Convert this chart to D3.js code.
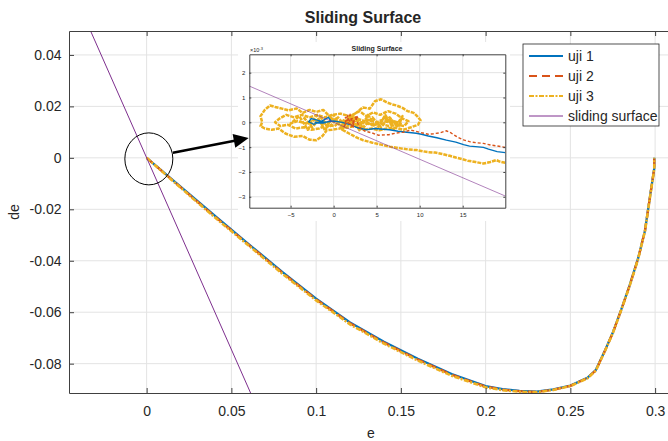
<!DOCTYPE html>
<html lang="en">
<head>
<meta charset="UTF-8" />
<title>Sliding Surface</title>
<script src="https://d3js.org/d3.v7.min.js"></script>
<style>
  body { margin: 0; background: #fff; }
  svg { font-family: "Liberation Sans", Arial, sans-serif; }
  svg text { fill: #262626; }
  .grid line { stroke: #e3e3e3; stroke-width: 1; }
</style>
</head>
<body>
<svg width="668" height="441"></svg>
<script>
// ---- main plot data (e, de) ----
const eVals = [0, 0.02, 0.04, 0.06, 0.08, 0.1, 0.12, 0.14, 0.16, 0.18, 0.2, 0.21, 0.22, 0.23,
               0.24, 0.25, 0.26, 0.265, 0.27, 0.275, 0.28, 0.285, 0.29, 0.294, 0.297, 0.2995, 0.2995];
const deUji1 = [0, -0.0112, -0.0224, -0.0334, -0.0443, -0.0547, -0.0640, -0.0715, -0.0781, -0.0840,
                -0.0887, -0.0899, -0.0906, -0.0909, -0.0900, -0.0885, -0.0855, -0.0825, -0.0755,
                -0.0680, -0.0590, -0.0495, -0.0390, -0.0283, -0.0150, -0.0040, 0];
const deUji2 = [0, -0.0114, -0.0227, -0.0337, -0.0446, -0.0550, -0.0643, -0.0718, -0.0784, -0.0843,
                -0.0889, -0.0901, -0.0907, -0.0910, -0.0901, -0.0886, -0.0856, -0.0826, -0.0756,
                -0.0681, -0.0591, -0.0496, -0.0391, -0.0284, -0.0151, -0.0041, 0];
const deUji3 = [0, -0.0116, -0.0230, -0.0340, -0.0450, -0.0554, -0.0647, -0.0722, -0.0788, -0.0847,
                -0.0892, -0.0903, -0.0909, -0.0911, -0.0902, -0.0887, -0.0857, -0.0827, -0.0757,
                -0.0682, -0.0592, -0.0497, -0.0392, -0.0285, -0.0152, -0.0042, 0];
const surfE = [-0.045, 0.07];
const surfDe = [0.0671, -0.1043];

const xTicks = [0, 0.05, 0.1, 0.15, 0.2, 0.25, 0.3];
const xTickLabels = ["0", "0.05", "0.1", "0.15", "0.2", "0.25", "0.3"];
const yTicks = [0.04, 0.02, 0, -0.02, -0.04, -0.06, -0.08];
const yTickLabels = ["0.04", "0.02", "0", "-0.02", "-0.04", "-0.06", "-0.08"];

// ---- inset data (zoom around the origin) ----
const insetUji1 = [[19.95,-1.22],[19.0,-1.18],[18.0,-1.08],[17.4,-1.01],[16.5,-0.98],[15.8,-0.96],
  [15.1,-0.9],[14.2,-0.8],[13.1,-0.72],[12.0,-0.62],[11.0,-0.55],[10.2,-0.48],[9.6,-0.44],[8.5,-0.4],
  [7.5,-0.36],[6.5,-0.3],[5.8,-0.28],[4.8,-0.25],[3.8,-0.3],[2.8,-0.22],[2.0,-0.1],[1.0,0.0],[0.0,0.05],
  [-1.0,0.0],[-1.8,0.08],[-2.6,0.15],[-2.9,0.02],[-2.3,-0.08],[-1.5,0.03],[-0.6,0.2],[-0.3,0.05],
  [-1.2,-0.03],[-2.2,0.0]];
const insetUji2 = [[19.95,-1.01],[19.0,-0.95],[18.3,-0.92],[17.4,-0.85],[16.5,-0.82],[15.8,-0.78],
  [15.1,-0.71],[14.4,-0.6],[13.6,-0.42],[13.1,-0.34],[12.4,-0.42],[11.6,-0.46],[11.0,-0.48],[10.2,-0.42],
  [9.4,-0.35],[8.9,-0.31],[8.1,-0.4],[7.3,-0.43],[6.4,-0.5],[5.2,-0.52],[4.4,-0.42],[3.6,-0.35],
  [3.0,-0.2],[2.6,0.15],[2.1,-0.15],[1.6,0.25],[1.2,-0.2],[1.9,0.3],[2.4,-0.2],[1.4,0.05],[2.9,0.25],
  [2.2,0.0],[1.3,0.2]];
const insetUji3 = [[19.95,-1.63],[19.3,-1.58],[18.9,-1.52],[18.2,-1.6],[17.4,-1.66],[16.5,-1.6],
  [15.6,-1.55],[15.1,-1.5],[14.2,-1.42],[13.5,-1.35],[12.7,-1.28],[11.8,-1.22],[10.9,-1.2],[9.7,-1.12],
  [8.8,-1.1],[7.8,-1.05],[6.5,-0.98],[5.5,-0.9],[4.5,-0.82],[3.4,-0.72],[2.6,-0.6],[1.8,-0.45],[1.0,-0.3],
  [1.6,0.1],[2.5,0.35],[3.4,0.6],[4.2,0.55],[4.8,0.85],[5.5,0.93],[6.2,0.8],[6.8,0.72],[7.3,0.68],
  [8.0,0.58],[8.6,0.45],[9.3,0.38],[9.7,0.25],[10.1,0.08],[9.8,-0.1],[9.0,-0.2],[8.1,-0.3],[7.2,-0.22],
  [6.2,-0.25],[5.3,-0.32],[4.4,-0.25],[3.5,-0.3],[2.5,-0.15],[1.5,-0.22],[0.5,-0.05],[-0.5,0.25],
  [-1.2,0.5],[-2.0,0.42],[-2.8,0.5],[-3.6,0.38],[-4.3,0.56],[-5.2,0.48],[-6.0,0.55],[-6.8,0.62],
  [-7.4,0.68],[-8.0,0.5],[-8.5,0.25],[-8.3,0.0],[-8.5,-0.15],[-8.0,-0.25],[-7.2,-0.3],[-6.4,-0.25],
  [-5.6,-0.45],[-4.6,-0.58],[-3.6,-0.55],[-2.8,-0.7],[-2.0,-0.72],[-1.3,-0.55],[-0.8,-0.32],[-0.2,-0.3],
  [0.7,-0.25],[1.4,0.05],[2.2,0.3],[3.0,0.45],[3.8,0.25],[4.6,0.4],[5.4,0.3],[6.3,0.45],[7.2,0.35],
  [8.0,0.15],[8.7,0.05],[8.2,-0.15],[7.3,-0.1],[6.4,-0.15],[5.4,-0.05],[4.5,-0.12],[3.6,0.05],[2.7,0.15],
  [1.8,0.25],[0.8,0.35],[-0.2,0.3],[-1.0,0.2],[-1.9,0.3],[-2.8,0.2],[-3.7,0.3],[-4.6,0.2],[-5.5,0.3],
  [-6.3,0.15],[-6.8,0.0],[-6.2,-0.15],[-5.3,-0.1],[-4.4,-0.25],[-3.5,-0.2],[-2.6,-0.3],[-1.7,-0.25],
  [-0.8,-0.1],[0.1,-0.15],[1.0,0.1],[2.0,-0.05],[3.0,-0.1],[4.0,0.1],[5.0,0.0],[6.0,0.15],[7.0,0.05],
  [7.8,-0.05],[6.8,-0.02],[5.8,0.05],[4.8,-0.1],[3.8,-0.05],[2.8,0.05],[1.8,0.1],[0.8,-0.05],[-0.2,0.05],
  [-1.2,-0.05],[-2.2,0.1],[-3.2,-0.05],[-4.2,0.05],[-5.0,-0.05],
  [-4.0,0.25],[-3.0,-0.3],[-2.0,0.28],[-1.0,-0.32],[0.0,0.3],[1.0,-0.3],[2.0,0.28],[3.0,-0.32],
  [4.0,0.3],[5.0,-0.3],[6.0,0.3],[7.0,-0.28],[8.0,0.25],[7.5,-0.2],[6.5,0.2],[5.5,-0.2],[4.5,0.2],
  [3.5,-0.2],[2.5,0.2],[1.5,-0.2],[0.5,0.2],[-0.5,-0.2],[-1.5,0.2],[-2.5,-0.2],[-3.5,0.2]];
const insetSurf = [[-9.8, 1.46], [19.95, -2.97]];
const insetXTicks = [-5, 0, 5, 10, 15];
const insetYTicks = [-3, -2, -1, 0, 1, 2];

const seriesNames = ["uji 1", "uji 2", "uji 3", "sliding surface"];
const colors = ["#0072BD", "#D95319", "#EDB120", "#7E2F8E"];
const dashes = [null, "8,5", "5,1.5,2,1.5", null];

const svg = d3.select("svg");

// ---- main axes ----
const x = d3.scaleLinear().domain([-0.0458, 0.3076]).range([69, 668]);
const y = d3.scaleLinear().domain([-0.0914, 0.0493]).range([393, 31]);

const grid = svg.append("g").attr("class", "grid");
grid.selectAll(".gx").data(xTicks).join("line")
  .attr("x1", d => x(d)).attr("x2", d => x(d)).attr("y1", y.range()[1]).attr("y2", y.range()[0]);
grid.selectAll(".gy").data(yTicks).join("line")
  .attr("x1", x.range()[0]).attr("x2", x.range()[1]).attr("y1", d => y(d)).attr("y2", d => y(d));

svg.append("clipPath").attr("id", "clipMain").append("rect")
  .attr("x", 69).attr("y", 31).attr("width", 599).attr("height", 362);

const plot = svg.append("g").attr("clip-path", "url(#clipMain)");
const line = d3.line().x(d => x(d[0])).y(d => y(d[1]));
const mainSeries = [deUji1, deUji2, deUji3].map(de => eVals.map((e, i) => [e, de[i]]));
mainSeries.forEach((pts, i) => {
  plot.append("path").datum(pts)
    .attr("d", line)
    .attr("fill", "none")
    .attr("stroke", colors[i])
    .attr("stroke-width", i === 2 ? 2.6 : 2.3)
    .attr("stroke-dasharray", dashes[i]);
});
plot.append("path").datum(surfE.map((e, i) => [e, surfDe[i]]))
  .attr("d", line).attr("fill", "none").attr("stroke", colors[3]).attr("stroke-width", 1);

// axes with inward ticks
svg.append("g").attr("class", "axis").attr("transform", "translate(0,393)")
  .call(d3.axisBottom(x).tickValues(xTicks).tickFormat((d, i) => xTickLabels[i])
    .tickSizeInner(-5).tickSizeOuter(0).tickPadding(13))
  .call(g => g.selectAll("text").attr("font-size", 14).attr("fill", "#262626"));
svg.append("g").attr("class", "axis").attr("transform", "translate(0,31)")
  .call(d3.axisTop(x).tickValues(xTicks).tickFormat("").tickSizeInner(-5).tickSizeOuter(0));
svg.append("g").attr("class", "axis").attr("transform", "translate(69,0)")
  .call(d3.axisLeft(y).tickValues(yTicks).tickFormat((d, i) => yTickLabels[i])
    .tickSizeInner(-5).tickSizeOuter(0).tickPadding(7.5))
  .call(g => g.selectAll("text").attr("font-size", 14).attr("fill", "#262626"));

svg.append("text").attr("x", 363).attr("y", 23).attr("text-anchor", "middle")
  .attr("font-size", 16).attr("font-weight", "bold").text("Sliding Surface");
svg.append("text").attr("x", 371).attr("y", 438).attr("text-anchor", "middle")
  .attr("font-size", 14).text("e");
svg.append("text").attr("transform", "translate(19,212) rotate(-90)").attr("text-anchor", "middle")
  .attr("font-size", 14).text("de");

// ---- inset ----
svg.append("rect").attr("x", 238).attr("y", 42).attr("width", 272).attr("height", 179).attr("fill", "#fff");
const ix = d3.scaleLinear().domain([-9.8, 19.95]).range([249.3, 505.3]);
const iy = d3.scaleLinear().domain([-3.44, 2.74]).range([207.7, 54.3]);

const igrid = svg.append("g").attr("class", "grid");
igrid.selectAll(".gx").data(insetXTicks).join("line")
  .attr("x1", d => ix(d)).attr("x2", d => ix(d)).attr("y1", 54.3).attr("y2", 207.7);
igrid.selectAll(".gy").data(insetYTicks).join("line")
  .attr("x1", 249.3).attr("x2", 505.3).attr("y1", d => iy(d)).attr("y2", d => iy(d));

svg.append("clipPath").attr("id", "clipInset").append("rect")
  .attr("x", 249.3).attr("y", 54.3).attr("width", 256).attr("height", 153.4);
const iplot = svg.append("g").attr("clip-path", "url(#clipInset)");
const iline = d3.line().x(d => ix(d[0])).y(d => iy(d[1]));
iplot.append("path").datum(insetUji3).attr("d", iline).attr("fill", "none")
  .attr("stroke", colors[2]).attr("stroke-width", 2.5).attr("stroke-dasharray", "4,1")
  .attr("stroke-linejoin", "round");
iplot.append("path").datum(insetUji1).attr("d", iline).attr("fill", "none")
  .attr("stroke", colors[0]).attr("stroke-width", 1.4);
iplot.append("path").datum(insetUji2).attr("d", iline).attr("fill", "none")
  .attr("stroke", colors[1]).attr("stroke-width", 1.4).attr("stroke-dasharray", "3,2");
iplot.append("path").datum(insetSurf).attr("d", iline).attr("fill", "none")
  .attr("stroke", colors[3]).attr("stroke-width", 0.6);

svg.append("g").attr("class", "axis").attr("transform", "translate(0,207.7)")
  .call(d3.axisBottom(ix).tickValues(insetXTicks).tickFormat(d3.format("d"))
    .tickSizeInner(-2).tickSizeOuter(0).tickPadding(5))
  .call(g => g.selectAll("text").attr("font-size", 6).attr("fill", "#404040"));
svg.append("g").attr("class", "axis").attr("transform", "translate(0,54.3)")
  .call(d3.axisTop(ix).tickValues(insetXTicks).tickFormat("").tickSizeInner(-2).tickSizeOuter(0));
svg.append("g").attr("class", "axis").attr("transform", "translate(249.3,0)")
  .call(d3.axisLeft(iy).tickValues(insetYTicks).tickFormat(d3.format("d"))
    .tickSizeInner(-2).tickSizeOuter(0).tickPadding(4))
  .call(g => g.selectAll("text").attr("font-size", 6).attr("fill", "#404040"));
svg.append("g").attr("class", "axis").attr("transform", "translate(505.3,0)")
  .call(d3.axisRight(iy).tickValues(insetYTicks).tickFormat("").tickSizeInner(-2).tickSizeOuter(0));
svg.selectAll(".axis path").attr("stroke", "#404040").attr("stroke-width", 1);
svg.selectAll(".axis line").attr("stroke", "#404040");

svg.append("text").attr("x", 377).attr("y", 51).attr("text-anchor", "middle")
  .attr("font-size", 7).attr("font-weight", "bold").text("Sliding Surface");
svg.append("text").attr("x", 250).attr("y", 52).attr("font-size", 5.5).attr("fill", "#555")
  .text("×10").append("tspan").attr("dy", -2).attr("font-size", 4).text("-3");

// ---- circle + arrow annotation (drawn over the inset) ----
svg.append("ellipse").attr("cx", x(0.0013)).attr("cy", y(-0.0004)).attr("rx", 24).attr("ry", 26)
  .attr("fill", "none").attr("stroke", "#000").attr("stroke-width", 1);
const a0 = [x(0.0155), y(0.002)], a1 = [x(0.0602), y(0.0077)];
const ang = Math.atan2(a1[1] - a0[1], a1[0] - a0[0]);
const headLen = 15, headHalf = 7;
const base = [a1[0] - headLen * Math.cos(ang), a1[1] - headLen * Math.sin(ang)];
svg.append("line")
  .attr("x1", a0[0]).attr("y1", a0[1]).attr("x2", base[0] + 2 * Math.cos(ang)).attr("y2", base[1] + 2 * Math.sin(ang))
  .attr("stroke", "#000").attr("stroke-width", 2.5);
svg.append("path")
  .attr("d", d3.line()([a1,
    [base[0] + headHalf * Math.sin(ang), base[1] - headHalf * Math.cos(ang)],
    [base[0] - headHalf * Math.sin(ang), base[1] + headHalf * Math.cos(ang)]]) + "Z")
  .attr("fill", "#000");

// ---- legend ----
const legend = svg.append("g");
legend.append("rect").attr("x", 523).attr("y", 44).attr("width", 136).attr("height", 82)
  .attr("fill", "#fff").attr("stroke", "#262626").attr("stroke-width", 0.8);
seriesNames.forEach((name, i) => {
  const ly = 56 + i * 20;
  legend.append("line").attr("x1", 529).attr("x2", 563).attr("y1", ly).attr("y2", ly)
    .attr("stroke", colors[i]).attr("stroke-width", i < 3 ? 2.2 : 1)
    .attr("stroke-dasharray", dashes[i]);
  legend.append("text").attr("x", 568).attr("y", ly).attr("dy", "0.35em")
    .attr("font-size", 14).text(name);
});
</script>
</body>
</html>
